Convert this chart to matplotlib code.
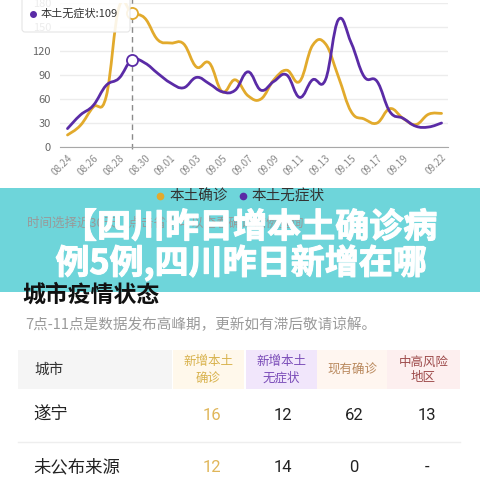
import matplotlib
matplotlib.use('Agg')
import matplotlib.pyplot as plt
import matplotlib.patheffects as pe
import numpy as np
from matplotlib.path import Path
from matplotlib.patches import PathPatch, Rectangle, FancyBboxPatch

plt.rcParams['font.family'] = ['Noto Sans CJK SC', 'DejaVu Sans']

# daily data 08.24 - 09.22
dates = ['08.24', '08.25', '08.26', '08.27', '08.28', '08.29', '08.30', '08.31',
         '09.01', '09.02', '09.03', '09.04', '09.05', '09.06', '09.07', '09.08',
         '09.09', '09.10', '09.11', '09.12', '09.13', '09.14', '09.15', '09.16',
         '09.17', '09.18', '09.19', '09.20', '09.21', '09.22']
confirmed = [15, 27, 50, 63, 175, 167, 161, 134, 130, 129, 100, 105, 69, 84, 64,
             60, 84, 96, 82, 127, 129, 88, 44, 35, 30, 48, 36, 28, 41, 42]
asymptomatic = [23, 40, 52, 77, 86, 109, 105, 92, 80, 74, 87, 79, 69, 71, 94,
                71, 82, 90, 62, 84, 84, 159, 130, 88, 82, 44, 36, 26, 25, 30]
tick_labels = ['08.24', '08.26', '08.28', '08.30', '09.01', '09.03', '09.05',
               '09.07', '09.09', '09.11', '09.13', '09.15', '09.17', '09.19', '09.22']
y_ticks = [0, 30, 60, 90, 120, 150, 180]
hover_idx = 5

cities = ['遂宁', '未公布来源']
col_new_confirmed = ['16', '12']
col_new_asym = ['12', '14']
col_current = ['62', '0']
col_risk = ['13', '-']

YELLOW = '#E2AA2C'
PURPLE = '#5A2BA6'


def smooth_path(xs, ys, k=0.2):
    # bezier smoothing like the echarts "smooth" option
    pts = np.column_stack([xs, ys]).astype(float)
    n = len(pts)
    verts = [pts[0]]
    codes = [Path.MOVETO]
    for i in range(n - 1):
        p0 = pts[max(i - 1, 0)]
        p1 = pts[i]
        p2 = pts[i + 1]
        p3 = pts[min(i + 2, n - 1)]
        c1 = p1 + (p2 - p0) * k
        c2 = p2 - (p3 - p1) * k
        verts += [c1, c2, p2]
        codes += [Path.CURVE4] * 3
    return Path(verts, codes)


fig = plt.figure(figsize=(4.8, 4.8), dpi=100)
fig.patch.set_facecolor('white')

# ---- line chart ----
ax = fig.add_axes([60 / 480, 1 - 147 / 480, 388 / 480, 144 / 480])
x = np.arange(len(dates))
ax.set_xlim(-0.58, 29.5)
ax.set_ylim(0, 180)
ax.set_yticks(y_ticks)
ax.tick_params(axis='y', length=0, labelsize=8, labelcolor='#666666', pad=6.5)
tick_pos = [dates.index(t) for t in tick_labels]
ax.set_xticks(tick_pos)
ax.set_xticklabels(tick_labels, rotation=45, ha='right', va='top',
                   rotation_mode='anchor', fontsize=7, color='#8a8a8a')
ax.tick_params(axis='x', length=0, pad=4)
ax.yaxis.grid(True, color='#ECECEC', lw=1)
ax.set_axisbelow(True)
for s in ['top', 'right', 'left']:
    ax.spines[s].set_visible(False)
ax.spines['bottom'].set_color('#A8A8A8')

ax.add_patch(PathPatch(smooth_path(x, confirmed), fill=False, edgecolor=YELLOW,
                       lw=2, capstyle='round', joinstyle='round', zorder=3))
ax.add_patch(PathPatch(smooth_path(x, asymptomatic), fill=False, edgecolor=PURPLE,
                       lw=2, capstyle='round', joinstyle='round', zorder=4))
ax.plot([hover_idx, hover_idx], [-3, 185], color='#8a8a8a', lw=1,
        ls=(0, (4, 3)), clip_on=False, zorder=2)
ax.plot(hover_idx, confirmed[hover_idx], 'o', ms=8, mfc='white', mec=YELLOW,
        mew=1.3, zorder=6, clip_on=False)
ax.plot(hover_idx, asymptomatic[hover_idx], 'o', ms=8, mfc='white', mec=PURPLE,
        mew=1.3, zorder=6)

# ---- overlay in pixel coords ----
ov = fig.add_axes([0, 0, 1, 1])
ov.set_xlim(0, 480)
ov.set_ylim(480, 0)
ov.axis('off')
ov.patch.set_alpha(0)

# tooltip
ov.add_patch(FancyBboxPatch((22, -12), 108, 44, boxstyle='round,pad=0,rounding_size=3',
                            fc='white', ec='#E2E2E2', lw=0.8, alpha=0.88))
ov.plot(33, 14, 'o', ms=4, color=PURPLE)
ov.text(41, 14, '本土无症状:%d' % asymptomatic[hover_idx], fontsize=8, color='#333333',
        va='center')

# legend + hint (under the banner)
ov.plot(160, 196, 'o', ms=4.5, color=YELLOW)
ov.text(169, 196, '本土确诊', fontsize=10.5, color='#333333', va='center')
ov.plot(243, 196, 'o', ms=4.5, color=PURPLE)
ov.text(251, 196, '本土无症状', fontsize=10.5, color='#333333', va='center')
ov.text(27, 223, '时间选择近30天，点击省份可以查看确诊病例查询', fontsize=9,
        color='#999999', va='center')

# city section title (partially under the banner)
ov.text(22, 295, '城市疫情状态', fontsize=16.5, fontweight='bold', color='#111111',
        va='center')

# teal banner
ov.add_patch(Rectangle((0, 188), 480, 104, fc=(62 / 255, 200 / 255, 206 / 255),
                       alpha=0.75, lw=0))
stroke = [pe.withStroke(linewidth=0.8, foreground='white')]
ov.text(250, 227, '【四川昨日增本土确诊病', fontsize=24.5, fontweight='heavy',
        color='white', ha='center', va='center', path_effects=stroke)
ov.text(241, 263, '例5例,四川昨日新增在哪', fontsize=24.5, fontweight='heavy',
        color='white', ha='center', va='center', path_effects=stroke)

ov.text(25, 325, '7点-11点是数据发布高峰期，更新如有滞后敬请谅解。', fontsize=10.5,
        color='#9a9a9a', va='center')

# table header
header_cells = [
    (18, 172, '#F5F5F5', '城市', '#333333'),
    (173, 244, '#FFF8EB', '新增本土\n确诊', '#D8B24C'),
    (246, 317, '#F1E6FB', '新增本土\n无症状', '#7A4CB8'),
    (317, 387, '#FFF6F0', '现有确诊', '#B9885C'),
    (387, 460, '#FDEFEF', '中高风险\n地区', '#9E4B4B'),
]
for x0, x1, bg, label, fg in header_cells:
    ov.add_patch(Rectangle((x0, 350), x1 - x0, 39, fc=bg, lw=0))
    if label == '城市':
        ov.text(34, 370, label, fontsize=10.5, color=fg, va='center')
    else:
        ov.text((x0 + x1) / 2, 370, label, fontsize=9, color=fg, ha='center',
                va='center', linespacing=1.3)

col_x = [212, 283, 354, 427]
row_y = [415, 467]
for i, city in enumerate(cities):
    y = row_y[i]
    ov.text(33, y, city, fontsize=12.5, color='#222222', va='center')
    vals = [col_new_confirmed[i], col_new_asym[i], col_current[i], col_risk[i]]
    for j, v in enumerate(vals):
        ov.text(col_x[j], y, v, fontsize=12, color=('#E0B65A' if j == 0 else '#222222'),
                ha='center', va='center', family=['Roboto', 'DejaVu Sans'])
ov.plot([18, 460], [442, 442], color='#EEEEEE', lw=1)

fig.savefig('out.png', dpi=100)
